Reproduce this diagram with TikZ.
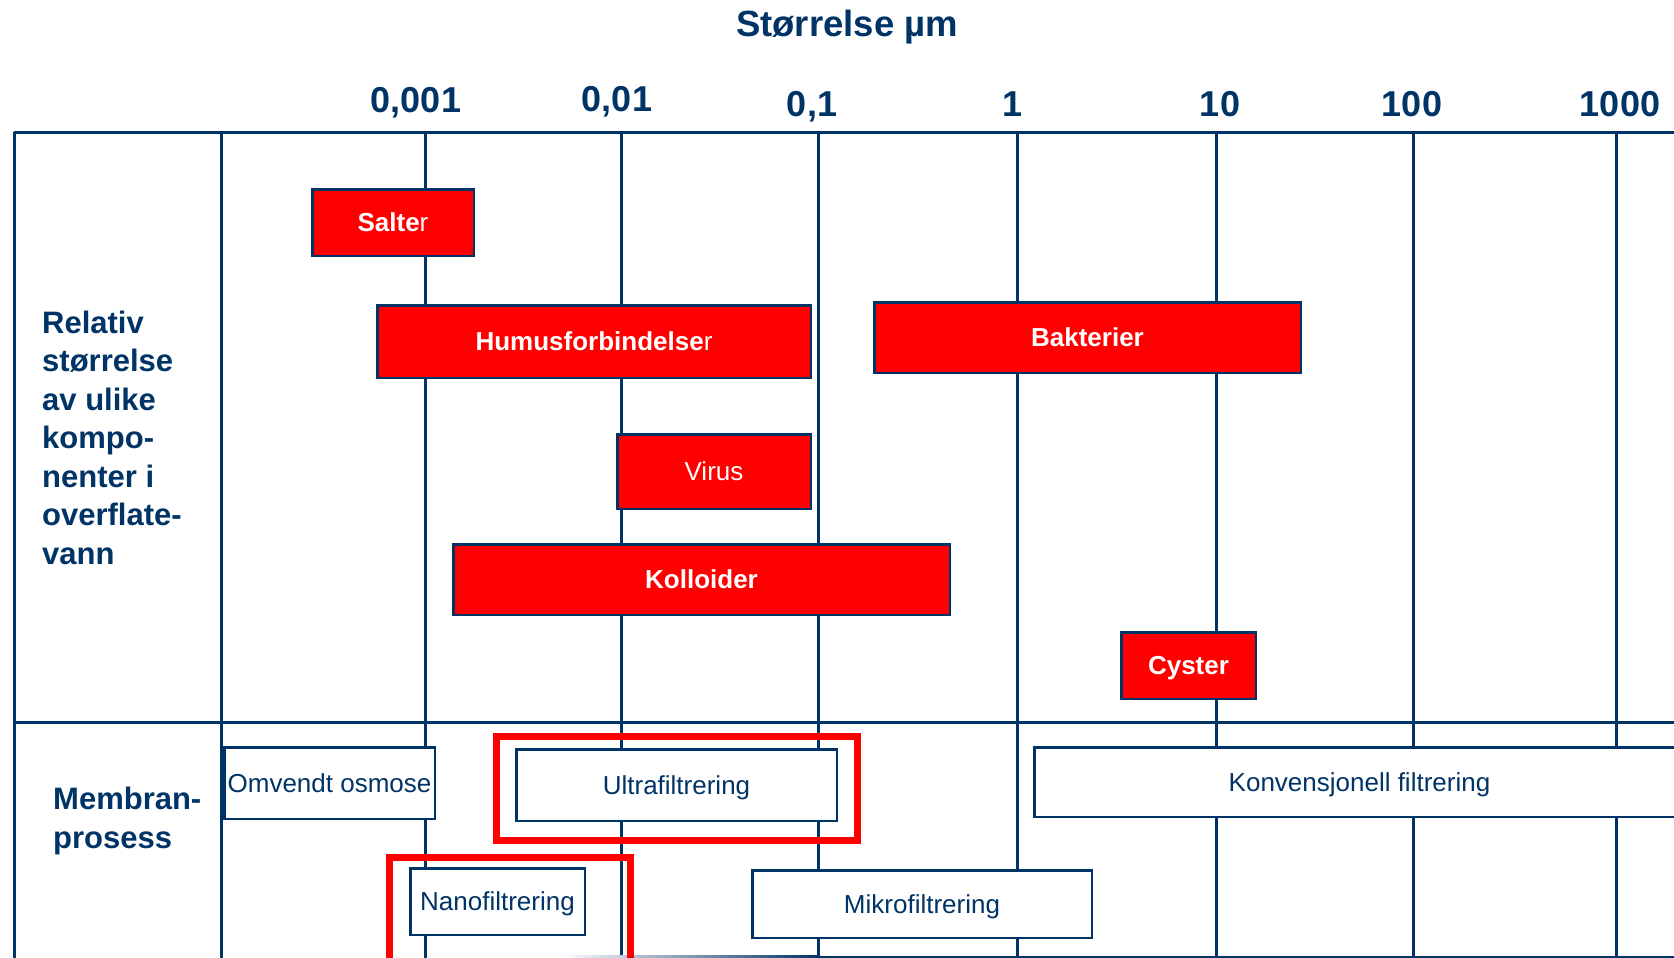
\documentclass[tikz,border=0pt]{standalone}
\usepackage{fontspec}
\setmainfont{Liberation Sans}
\definecolor{navy}{RGB}{0,51,102}
\definecolor{redfill}{RGB}{255,0,0}
\begin{document}
\begin{tikzpicture}[x=1pt,y=-1pt,
  gridline/.style={draw=navy,line width=3pt},
  redbox/.style={draw=navy,line width=2.5pt,fill=redfill,text=white,inner sep=0pt,
    font=\fontsize{26}{30}\selectfont\bfseries,text height=18.6pt,text depth=0pt},
  membox/.style={draw=navy,line width=2.5pt,fill=white,text=navy,inner sep=0pt,
    font=\fontsize{26}{30}\selectfont,text height=18.6pt,text depth=0pt},
  ticklabel/.style={text=navy,inner sep=0pt,anchor=base,font=\fontsize{36}{40}\selectfont\bfseries},
  sidelabel/.style={text=navy,inner sep=0pt,anchor=base west,align=left,font=\fontsize{31}{38.5}\selectfont\bfseries},
  highlight/.style={draw=redfill,line width=7pt}]
\clip (0,0) rectangle (1674,958);
\fill[white] (0,0) rectangle (1674,958);
% title and ticks
\node[ticklabel,font=\fontsize{36.5}{40}\selectfont\bfseries] (title) at (847,37) {Størrelse µm};
\node[ticklabel] (t1) at (416,112) {0,001};
\node[ticklabel] (t2) at (617,111) {0,01};
\node[ticklabel] (t3) at (812,117) {0,1};
\node[ticklabel] (t4) at (1012,117) {1};
\node[ticklabel] (t5) at (1220,117) {10};
\node[ticklabel] (t6) at (1412,117) {100};
\node[ticklabel] (t7) at (1620,117) {1000};
% grid
\draw[gridline] (14,132) -- (1674,132);
\draw[gridline] (14,722) -- (1674,722);
\foreach \x in {14,221,425,621,818,1017,1216,1413,1616}
  \draw[gridline] (\x,132) -- (\x,958);
\shade[left color=white,right color=navy] (560,955.5) rectangle (820,958);
\fill[navy] (820,955.5) rectangle (1674,958);
% side labels (anchor is the baseline of the last line)
\node[sidelabel] (rel) at (42,564) {Relativ\\størrelse\\av ulike\\kompo-\\nenter i\\overflate-\\vann};
\node[sidelabel] (mem) at (53,848) {Membran-\\prosess};
% red component boxes
\node[redbox,minimum width=161.5pt,minimum height=66.5pt] (salter) at (393,222.5) {Salte\mdseries r};
\node[redbox,minimum width=433.5pt,minimum height=72.5pt] (humus) at (594,341.5) {Humusforbindelse\mdseries r};
\node[redbox,minimum width=426.5pt,minimum height=70.5pt] (bakt) at (1087.5,337.5) {Bakterier};
\node[redbox,minimum width=193.5pt,minimum height=74.5pt,font=\fontsize{26}{30}\selectfont] (virus) at (714,471.5) {Virus};
\node[redbox,minimum width=496.5pt,minimum height=70.5pt] (koll) at (701.5,579.5) {Kolloider};
\node[redbox,minimum width=134.5pt,minimum height=66.5pt] (cyst) at (1188.5,665.5) {Cyster};
% membrane boxes
\node[membox,minimum width=210.5pt,minimum height=71.5pt] (omv) at (329.5,783) {Omvendt osmose};
\node[membox,minimum width=320.5pt,minimum height=71.5pt] (ultra) at (676.5,785) {Ultrafiltrering};
\node[membox,minimum width=174.5pt,minimum height=66.5pt] (nano) at (497.5,901.5) {Nanofiltrering};
\node[membox,minimum width=339.5pt,minimum height=67.5pt] (mikro) at (922,904) {Mikrofiltrering};
\node[membox,minimum width=650.5pt,minimum height=69.5pt] (konv) at (1359.5,782) {Konvensjonell filtrering};
% highlight frames
\draw[highlight] (496.5,736.5) rectangle (857.5,840.5);
\draw[highlight] (389.5,857.5) rectangle (630.5,975);
\end{tikzpicture}
\end{document}
